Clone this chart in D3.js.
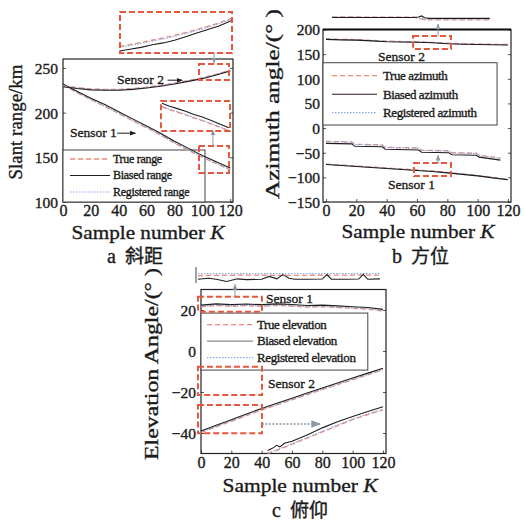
<!DOCTYPE html>
<html>
<head>
<meta charset="utf-8">
<script src="https://cdn.jsdelivr.net/npm/d3@7"></script>
<style>
  body { margin: 0; background: #fff; }
  text { font-family: "Liberation Serif", "Times New Roman", serif; fill: #1b1b1b; }
  .heavy { stroke: #1b1b1b; stroke-width: 0.35px; }
  .cjk { font-family: "Noto Sans CJK SC", sans-serif; }
</style>
</head>
<body>
<svg id="chart" width="524" height="525"></svg>
<script>
// ---- data ----
var sampleK = [0, 10, 20, 30, 40, 50, 60, 70, 80, 90, 100, 110, 120];

// a: slant range (km)
var rangeS1Biased = [232, 224, 216, 209, 201, 193, 185, 177, 168, 160, 152, 145, 138];
var rangeS1True   = [231, 222.5, 214.5, 207, 199, 191, 183, 175, 166, 158, 150, 143, 136];
var rangeS1Reg    = [231.3, 222.8, 214.8, 207.3, 199.3, 191.3, 183.3, 175.3, 166.3, 158.3, 150.3, 143.3, 136.4];
var rangeS2Biased = [229, 227, 225.5, 225, 225, 226, 227.5, 229.5, 232, 235, 238, 242, 246.5];
var rangeS2True   = [230, 228, 226.5, 226, 226, 227, 228.5, 230.5, 233, 236, 239, 243, 247.5];
var rangeS2Reg    = [229.7, 227.7, 226.2, 225.7, 225.7, 226.7, 228.2, 230.2, 232.7, 235.7, 238.7, 242.7, 247.2];
// zoomed copies drawn in the insets (same axis units)
var insetA2K      = [40.5, 48, 56, 64, 72, 80, 88, 96, 104, 112, 121];
var insetA2Biased = [269, 271, 273, 276, 278, 281, 285, 289, 293, 297, 303];
var insetA2True   = [274, 276, 278.5, 281, 283.5, 286.5, 289.5, 293, 296.5, 300.5, 305.5];
var insetA2Reg    = [273, 275, 277.5, 280, 282.5, 285.5, 288.5, 292, 295.5, 299.5, 304.8];
var insetA1K      = [71, 76, 82, 88, 94, 100, 106, 112, 119];
var insetA1Biased = [210.5, 207.5, 204.5, 201.5, 198, 195, 191.5, 187.5, 183];
var insetA1True   = [206.5, 203.5, 200.5, 197.5, 194, 191, 187.5, 184, 179.5];
var insetA1Reg    = [207, 204, 201, 198, 194.5, 191.5, 188, 184.5, 180];

// b: azimuth (deg)
var azS2Biased = [180, 179, 178.5, 177, 175, 174.5, 174, 173, 171, 170, 169.5, 169, 168.5];
var azS2True   = [181, 180, 179.5, 178, 176.5, 175.5, 175, 174, 172.5, 171, 170.5, 170, 169.5];
var azS2Reg    = [180.5, 179.5, 179, 177.5, 176, 175, 174.5, 173.5, 172, 170.5, 170, 169.5, 169];
var azS1Biased = [-74, -76, -78, -80, -82, -84, -86, -88, -91, -94, -97, -101, -105];
var azS1True   = [-73, -75, -77, -79, -81, -83, -85, -87, -90, -93, -96, -100, -104];
var azS1Reg    = [-73.3, -75.3, -77.3, -79.3, -81.3, -83.3, -85.3, -87.3, -90.3, -93.3, -96.3, -100.3, -104.3];
var insetB1K      = [0, 17, 19, 37, 39, 61, 63, 81, 83, 99, 101, 115];
var insetB1Biased = [-31, -32, -37, -38, -43, -44.5, -49, -50, -54, -55, -59, -65];
var insetB1True   = [-27, -28, -33, -34, -39, -40.5, -45, -46, -50, -51, -55, -61];
var insetB1Reg    = [-27.5, -28.5, -33.5, -34.5, -39.5, -41, -45.5, -46.5, -50.5, -51.5, -55.5, -61.5];
var insetB2K      = [4, 58, 61, 63, 65, 68, 108];
var insetB2Biased = [224.5, 224.5, 225.5, 227.5, 224, 222.5, 222.5];
var insetB2True   = [225.5, 225, 223, 221, 220, 219.5, 219.5];
var insetB2Reg    = [225, 224.7, 223.5, 222, 221, 220.5, 220.5];

// c: elevation (deg)
var elS1Biased = [22.4, 23, 22.6, 22.9, 22.6, 23, 22.7, 22.2, 22.4, 22, 21.6, 21.2, 20.3];
var elS1True   = [21.6, 22.2, 21.8, 22.1, 21.8, 22.2, 21.9, 21.4, 21.6, 21.2, 20.8, 20.4, 19.5];
var elS1Reg    = [21.8, 22.4, 22, 22.3, 22, 22.4, 22.1, 21.6, 21.8, 21.4, 21, 20.6, 19.7];
var elS2Biased = [-39, -36.2, -33.5, -30.7, -28, -25.5, -23, -20.5, -18, -15.6, -13.2, -10.8, -8.4];
var elS2True   = [-39.8, -37, -34.3, -31.5, -28.8, -26.3, -23.8, -21.3, -18.8, -16.4, -14, -11.6, -9.2];
var elS2Reg    = [-39.6, -36.8, -34.1, -31.3, -28.6, -26.1, -23.6, -21.1, -18.6, -16.2, -13.8, -11.4, -9];
var insetC2K      = [44, 47, 50, 52, 55, 60, 70, 80, 90, 100, 110, 120];
var insetC2Biased = [-48.5, -47.5, -46, -46.8, -45, -44, -41, -37.5, -34.5, -32, -29.5, -27.2];
var insetC2True   = [-50, -49.3, -48.5, -47.8, -47, -45.5, -42.5, -39.5, -36.5, -33.5, -31, -28.7];
var insetC2Reg    = [-49.7, -49, -48.2, -47.5, -46.7, -45.2, -42.2, -39.2, -36.2, -33.2, -30.7, -28.4];
var insetC1K      = [-2, 5, 10, 17, 24, 30, 40, 45, 50, 54, 58, 62, 70, 80, 83, 86, 95, 104, 107, 110, 118];
var insetC1Biased = [35, 35.5, 35, 33.9, 35.2, 34.8, 35, 36.4, 35.2, 37.3, 35.5, 35, 35, 35.1, 37.3, 35, 35, 35.1, 37.4, 35, 35.2];
var insetC1LineK  = [-2, 30, 60, 90, 118];
var insetC1True   = [36.8, 37, 36.9, 37, 37];
var insetC1Reg    = [37.8, 37.7, 37.8, 37.8, 37.7];

var xTicks = [0, 20, 40, 60, 80, 100, 120];

// ---- drawing ----
var svg = d3.select("#chart");
var defs = svg.append("defs");
function marker(id, color) {
  defs.append("marker").attr("id", id)
    .attr("viewBox", "0 0 10 10").attr("refX", 9).attr("refY", 5)
    .attr("markerWidth", 6).attr("markerHeight", 6).attr("orient", "auto")
    .append("path").attr("d", "M0,1 L10,5 L0,9 Z").attr("fill", color);
}
marker("arrBlack", "#1b1b1b");
marker("arrGray", "#8a9aa6");

var styles = {
  "true":   { stroke: "#ef8a76", width: 1.3, dash: "5,3" },
  "biased": { stroke: "#1e1e1e", width: 1.1, dash: null },
  "reg":    { stroke: "#8aa8e6", width: 1.2, dash: "1.5,1.5" }
};

function makePanel(o) {
  var p = {};
  p.x = d3.scaleLinear().domain(o.xDomain).range(o.xRange);
  p.y = d3.scaleLinear().domain(o.yDomain).range(o.yRange);
  p.g = svg.append("g");
  p.o = o;
  return p;
}

function drawAxes(p) {
  var o = p.o;
  var x0 = o.xRange[0], x1 = o.xRange[1], yb = o.yRange[0], yt = o.yRange[1];
  var ax = p.g.append("g").attr("transform", "translate(0," + yb + ")")
    .call(d3.axisBottom(p.x).tickValues(xTicks).tickSize(-3).tickPadding(3));
  ax.select(".domain").remove();
  ax.selectAll("text").attr("font-size", 16).attr("class", "heavy")
    .style("font-family", "Liberation Serif");
  var ay = p.g.append("g").attr("transform", "translate(" + x0 + ",0)")
    .call(d3.axisLeft(p.y).tickValues(o.yTicks).tickSize(-3).tickPadding(o.yPad));
  ay.select(".domain").remove();
  ay.selectAll("text").attr("font-size", 15.5).attr("dy", "0.35em").attr("class", "heavy")
    .style("font-family", "Liberation Serif");
  var ar = p.g.append("g").attr("transform", "translate(" + x1 + ",0)")
    .call(d3.axisRight(p.y).tickValues(o.yTicks).tickSize(-3).tickFormat(""));
  ar.select(".domain").remove();
  p.g.selectAll(".tick line").attr("stroke", "#555");

  p.g.append("rect")
    .attr("x", x0).attr("y", yt)
    .attr("width", x1 - x0).attr("height", yb - yt)
    .attr("fill", "none").attr("stroke", "#222").attr("stroke-width", 1.2);

  var xt = p.g.append("text")
    .attr("x", o.xTitle[0]).attr("y", o.xTitle[1])
    .attr("text-anchor", "middle").attr("font-size", 19.5).attr("class", "heavy")
    .attr("textLength", o.xTitle[2]).attr("lengthAdjust", "spacingAndGlyphs");
  xt.append("tspan").text("Sample number ");
  xt.append("tspan").attr("font-style", "italic").text("K");

  p.g.append("text")
    .attr("transform", "translate(" + o.yTitle[0] + "," + o.yTitle[1] + ") rotate(-90)")
    .attr("text-anchor", "middle").attr("font-size", 19).attr("class", "heavy")
    .attr("textLength", o.yTitle[2]).attr("lengthAdjust", "spacingAndGlyphs")
    .text(o.yLabel);

  var cap = p.g.append("text").attr("x", o.caption[0]).attr("y", o.caption[1])
    .attr("font-size", 20).attr("class", "heavy");
  cap.append("tspan").text(o.capLetter + " ");
  cap.append("tspan").attr("class", "cjk").attr("font-size", 19).attr("dx", 4).text(o.capText);
}

function drawLine(p, ks, vals, kind) {
  var s = styles[kind];
  var line = d3.line().x(function(d) { return p.x(d[0]); }).y(function(d) { return p.y(d[1]); });
  p.g.append("path")
    .datum(d3.zip(ks, vals))
    .attr("d", line)
    .attr("fill", "none")
    .attr("stroke", s.stroke)
    .attr("stroke-width", s.width)
    .attr("stroke-dasharray", s.dash);
}

function drawTriple(p, ks, t, r, b) {
  drawLine(p, ks, t, "true");
  drawLine(p, ks, r, "reg");
  drawLine(p, ks, b, "biased");
}

function zoomBox(p, b) {
  p.g.append("rect")
    .attr("x", p.x(b[0])).attr("y", p.y(b[3]))
    .attr("width", p.x(b[1]) - p.x(b[0])).attr("height", p.y(b[2]) - p.y(b[3]))
    .attr("fill", "none").attr("stroke", "#e5583d").attr("stroke-width", 2)
    .attr("stroke-dasharray", "6,3");
}

function arrow(p, a, color, dash) {
  p.g.append("line")
    .attr("x1", p.x(a[0])).attr("y1", p.y(a[1]))
    .attr("x2", p.x(a[2])).attr("y2", p.y(a[3]))
    .attr("stroke", color === "black" ? "#1b1b1b" : "#8a9aa6")
    .attr("stroke-width", dash ? 1.6 : 1)
    .attr("stroke-dasharray", dash || null)
    .attr("marker-end", color === "black" ? "url(#arrBlack)" : "url(#arrGray)");
}

function label(p, k, v, txt, size) {
  p.g.append("text").attr("x", p.x(k)).attr("y", p.y(v))
    .attr("font-size", size || 13.5).attr("class", "heavy").attr("stroke-width", 0.2).text(txt);
}

function legend(p, box, names, lay) {
  var x0 = p.x(box[0]), x1 = p.x(box[1]), y0 = p.y(box[3]), y1 = p.y(box[2]);
  var lg = p.g.append("g");
  lg.append("rect").attr("x", x0).attr("y", y0).attr("width", x1 - x0).attr("height", y1 - y0)
    .attr("fill", "#fff").attr("stroke", "#444").attr("stroke-width", 1);
  var kinds = ["true", "biased", "reg"];
  kinds.forEach(function(k, i) {
    var yy = y0 + lay.rows[i];
    var s = styles[k];
    lg.append("line").attr("x1", x0 + lay.l0).attr("x2", x0 + lay.l1)
      .attr("y1", yy).attr("y2", yy)
      .attr("stroke", k === "biased" ? lay.biasedColor : s.stroke)
      .attr("stroke-width", s.width).attr("stroke-dasharray", s.dash);
    lg.append("text").attr("x", x0 + lay.tx).attr("y", yy + lay.size * 0.33)
      .attr("font-size", lay.size).attr("letter-spacing", lay.ls)
      .attr("class", "heavy").attr("stroke-width", 0.2)
      .text(names[i]);
  });
}

// ---------- panel a ----------
var pa = makePanel({
  xDomain: [0, 122], xRange: [63, 233],
  yDomain: [100, 260], yRange: [202, 59],
  yTicks: [100, 150, 200, 250], yPad: 5,
  xTitle: [148, 239, 153], yTitle: [22, 122, 115], yLabel: "Slant range/km",
  caption: [107, 263], capLetter: "a", capText: "斜距"
});
drawAxes(pa);
legend(pa, [0, 101.9, 100, 158.2], ["True range", "Biased range", "Registered range"],
  { rows: [9, 25.5, 42], l0: 7, l1: 47, tx: 50, size: 12, ls: -0.3, biasedColor: "#1e1e1e" });
drawTriple(pa, sampleK, rangeS1True, rangeS1Reg, rangeS1Biased);
drawTriple(pa, sampleK, rangeS2True, rangeS2Reg, rangeS2Biased);
drawTriple(pa, insetA2K, insetA2True, insetA2Reg, insetA2Biased);
drawTriple(pa, insetA1K, insetA1True, insetA1Reg, insetA1Biased);
zoomBox(pa, [97.6, 119.1, 236.5, 254.4]);
zoomBox(pa, [97.6, 119.1, 132.4, 162.7]);
zoomBox(pa, [40.9, 121.3, 266.7, 312.6]);
zoomBox(pa, [70.3, 119.9, 179.4, 213]);
arrow(pa, [108.4, 266.7, 108.4, 255.5], "gray");
arrow(pa, [107.6, 162.7, 107.6, 180.5], "gray");
label(pa, 38.8, 232, "Sensor 2");
arrow(pa, [75, 236.3, 85.5, 236.3], "black");
label(pa, 5, 173, "Sensor 1");
arrow(pa, [38.8, 177, 52, 177], "black");

// ---------- panel b ----------
var pb = makePanel({
  xDomain: [-2, 122], xRange: [323, 511],
  yDomain: [-150, 200], yRange: [202, 29.5],
  yTicks: [-150, -100, -50, 0, 50, 100, 150, 200], yPad: 3,
  xTitle: [418, 238, 153], yTitle: [279, 104, 190], yLabel: "Azimuth angle/(°  )",
  caption: [392, 263], capLetter: "b", capText: "方位"
});
drawAxes(pb);
pb.g.append("line").attr("x1", 323).attr("x2", 511).attr("y1", 29.5).attr("y2", 29.5)
  .attr("stroke", "#111").attr("stroke-width", 2);
legend(pb, [-2, 112.8, 6.2, 132.6], ["True azimuth", "Biased azimuth", "Registered azimuth"],
  { rows: [13, 31.5, 50], l0: 9, l1: 54, tx: 60, size: 13, ls: -0.4, biasedColor: "#2a1a14" });
drawTriple(pb, sampleK, azS2True, azS2Reg, azS2Biased);
drawTriple(pb, sampleK, azS1True, azS1Reg, azS1Biased);
drawTriple(pb, insetB1K, insetB1True, insetB1Reg, insetB1Biased);
drawTriple(pb, insetB2K, insetB2True, insetB2Reg, insetB2Biased);
zoomBox(pb, [57.4, 82.4, 160.4, 186.8]);
zoomBox(pb, [58, 82.4, -97.3, -70.9]);
arrow(pb, [73.9, 186.8, 73.9, 211], "gray");
arrow(pb, [73.9, -70.9, 73.9, -55], "gray");
label(pb, 34.3, 136, "Sensor 2");
label(pb, 40.9, -124, "Sensor 1");

// ---------- panel c ----------
var pc = makePanel({
  xDomain: [0, 122], xRange: [201, 386],
  yDomain: [-50, 30], yRange: [453.5, 289.5],
  yTicks: [-40, -20, 0, 20], yPad: 5,
  xTitle: [300, 492, 155], yTitle: [158, 364, 192], yLabel: "Elevation Angle/(°  )",
  caption: [272, 517], capLetter: "c", capText: "俯仰"
});
drawAxes(pc);
legend(pc, [0, 110, -9.3, 18.5], ["True elevation", "Biased elevation", "Registered elevation"],
  { rows: [11.5, 28, 44.6], l0: 6, l1: 52, tx: 56, size: 13, ls: -0.4, biasedColor: "#8a8a8a" });
drawTriple(pc, sampleK, elS1True, elS1Reg, elS1Biased);
drawTriple(pc, sampleK, elS2True, elS2Reg, elS2Biased);
drawTriple(pc, insetC2K, insetC2True, insetC2Reg, insetC2Biased);
drawLine(pc, insetC1LineK, insetC1True, "true");
drawLine(pc, insetC1LineK, insetC1Reg, "reg");
drawLine(pc, insetC1K, insetC1Biased, "biased");
pc.g.append("line")
  .attr("x1", pc.x(-3.3)).attr("x2", pc.x(-3.3)).attr("y1", pc.y(41)).attr("y2", pc.y(33.2))
  .attr("stroke", "#9aa4aa").attr("stroke-width", 2);
zoomBox(pc, [-2, 40.2, 19.2, 26.5]);
zoomBox(pc, [-2, 40.2, -21.5, -7.7]);
zoomBox(pc, [-2, 40.2, -40.1, -26.3]);
arrow(pc, [22.4, 26.5, 22.4, 32.5], "gray");
arrow(pc, [40.2, -35.6, 78.5, -35.6], "gray", "2,1.5");
label(pc, 42.9, 23.4, "Sensor 1");
label(pc, 44.2, -18, "Sensor 2");
</script>
</body>
</html>
